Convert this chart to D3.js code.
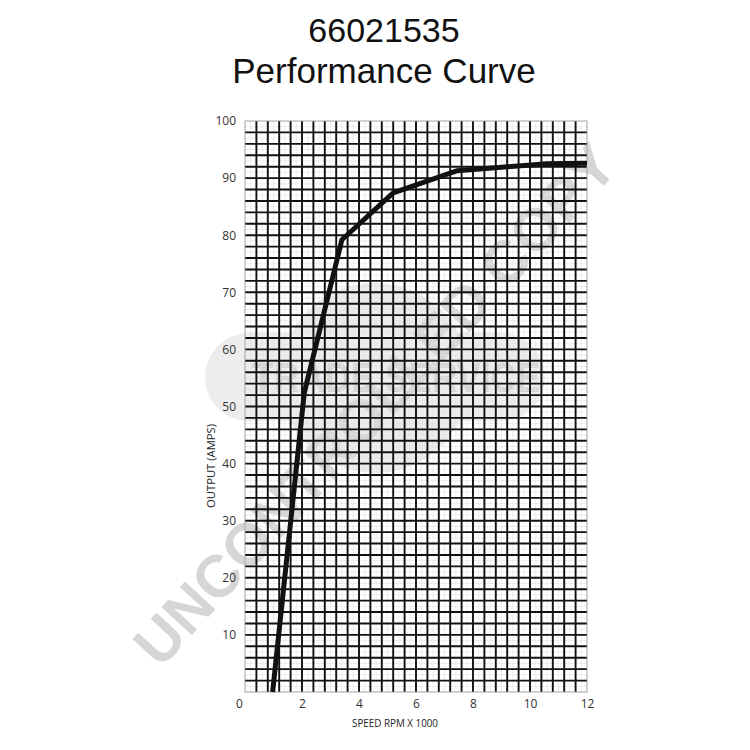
<!DOCTYPE html>
<html>
<head>
<meta charset="utf-8">
<script src="https://cdn.jsdelivr.net/npm/d3@7"></script>
<style>
  html, body { margin: 0; padding: 0; background: #fff; }
  svg { display: block; }
</style>
</head>
<body>
<svg id="chart" width="750" height="750"></svg>
<script>
// ---- data ----
const titleLines = ["66021535", "Performance Curve"];
const speedRpmK = [0.97, 2.08, 3.4, 5.2, 7.45, 9.0, 10.6, 12];
const outputAmps = [0, 52.4, 79.2, 87.4, 91.3, 91.9, 92.5, 92.6];
const xTicks = [0, 2, 4, 6, 8, 10, 12];
const yTicks = [10, 20, 30, 40, 50, 60, 70, 80, 90, 100];
const xTitle = "SPEED RPM X 1000";
const yTitle = "OUTPUT (AMPS)";
const watermarkMain = "UNCONTROLLED COPY";
const watermarkLogo = "TRADE SERVICE";

(function () {
const svg = d3.select("#chart");
const pL = 245, pR = 587, pT = 121, pB = 692;
const x = d3.scaleLinear().domain([0, 12]).range([pL, pR]);
const y = d3.scaleLinear().domain([0, 100]).range([pB, pT]);

// ---- title ----
svg.append("text").attr("x", 384).attr("y", 42).attr("text-anchor", "middle")
  .style("font-family", "'Liberation Sans', Arial, sans-serif").style("font-size", "34px")
  .attr("fill", "#111").text(titleLines[0]);
svg.append("text").attr("x", 384).attr("y", 83).attr("text-anchor", "middle")
  .style("font-family", "'Liberation Sans', Arial, sans-serif").style("font-size", "35px")
  .attr("fill", "#111").text(titleLines[1]);

// ---- watermark (beneath grid) ----
const wm = svg.append("g").attr("class", "watermark");
wm.append("circle").attr("cx", 375).attr("cy", 378).attr("r", 95).attr("fill", "#ebebeb");
wm.append("rect").attr("x", 205).attr("y", 333).attr("width", 340).attr("height", 88)
  .attr("rx", 44).attr("fill", "#ededed");
wm.append("text").attr("x", 396).attr("y", 377).attr("text-anchor", "middle")
  .attr("dominant-baseline", "central")
  .attr("textLength", 288).attr("lengthAdjust", "spacingAndGlyphs")
  .style("font-family", "'Liberation Sans', Arial, sans-serif").style("font-weight", "bold")
  .style("font-size", "42px").attr("fill", "#d4d4d4").text(watermarkLogo);
wm.append("text").attr("transform", "translate(375,405) rotate(-47.5)")
  .attr("text-anchor", "middle").attr("dominant-baseline", "central")
  .attr("textLength", 680).attr("lengthAdjust", "spacingAndGlyphs")
  .style("font-family", "'Liberation Sans', Arial, sans-serif").style("font-weight", "bold")
  .style("font-size", "60px").attr("fill", "#d6d6d6").text(watermarkMain);

// ---- grid ----
const grid = svg.append("g").attr("class", "grid");
const vMinor = d3.range(0, 12.0001, 0.2);
const hMinor = d3.range(0, 100.0001, 1);
grid.selectAll("line.vm").data(vMinor).join("line").attr("class", "vm")
  .attr("x1", d => x(d)).attr("x2", d => x(d)).attr("y1", pT).attr("y2", pB)
  .attr("stroke", "#e2e2e2").attr("stroke-width", 0.6);
grid.selectAll("line.hm").data(hMinor).join("line").attr("class", "hm")
  .attr("y1", d => y(d)).attr("y2", d => y(d)).attr("x1", pL).attr("x2", pR)
  .attr("stroke", "#e2e2e2").attr("stroke-width", 0.6);

const vMajor = d3.range(0.4, 11.9, 0.4);
const hMajor = d3.range(2, 99, 2);
grid.selectAll("line.v").data(vMajor).join("line").attr("class", "v")
  .attr("x1", d => x(d)).attr("x2", d => x(d)).attr("y1", pT).attr("y2", pB)
  .attr("stroke", "#111").attr("stroke-width", 1.9);
grid.selectAll("line.h").data(hMajor).join("line").attr("class", "h")
  .attr("y1", d => y(d)).attr("y2", d => y(d)).attr("x1", pL).attr("x2", pR)
  .attr("stroke", "#111").attr("stroke-width", 1.9);
grid.append("rect").attr("x", pL).attr("y", pT).attr("width", pR - pL)
  .attr("height", pB - pT).attr("fill", "none").attr("stroke", "#999").attr("stroke-width", 0.8);

// ---- axes ----
const xAxis = svg.append("g").attr("transform", `translate(0,${pB})`)
  .call(d3.axisBottom(x).tickValues(xTicks).tickSize(0).tickPadding(7).tickFormat(d3.format("d")));
xAxis.select(".domain").remove();
xAxis.selectAll("text")
  .style("font-family", "'Open Sans', sans-serif").style("font-size", "12px").attr("fill", "#333")
  .attr("dx", d => d === 0 ? -6 : 0);

const yAxis = svg.append("g").attr("transform", `translate(${pL},0)`)
  .call(d3.axisLeft(y).tickValues(yTicks).tickSize(0).tickPadding(9).tickFormat(d3.format("d")));
yAxis.select(".domain").remove();
yAxis.selectAll("text")
  .style("font-family", "'Open Sans', sans-serif").style("font-size", "12px").attr("fill", "#333");

svg.append("text").attr("x", 395).attr("y", 727).attr("text-anchor", "middle")
  .attr("textLength", 86).attr("lengthAdjust", "spacingAndGlyphs")
  .style("font-family", "'Open Sans', sans-serif").style("font-size", "11px").attr("fill", "#222")
  .text(xTitle);
svg.append("text").attr("transform", "translate(215,466) rotate(-90)").attr("text-anchor", "middle")
  .attr("textLength", 84).attr("lengthAdjust", "spacingAndGlyphs")
  .style("font-family", "'Open Sans', sans-serif").style("font-size", "11px").attr("fill", "#222")
  .text(yTitle);

// ---- curve ----
const pts = speedRpmK.map((s, i) => [s, outputAmps[i]]);
const line = d3.line().x(d => x(d[0])).y(d => y(d[1]));
svg.append("path").datum(pts).attr("d", line).attr("fill", "none")
  .attr("stroke", "#111").attr("stroke-width", 5).attr("stroke-linejoin", "round");
})();
</script>
</body>
</html>
